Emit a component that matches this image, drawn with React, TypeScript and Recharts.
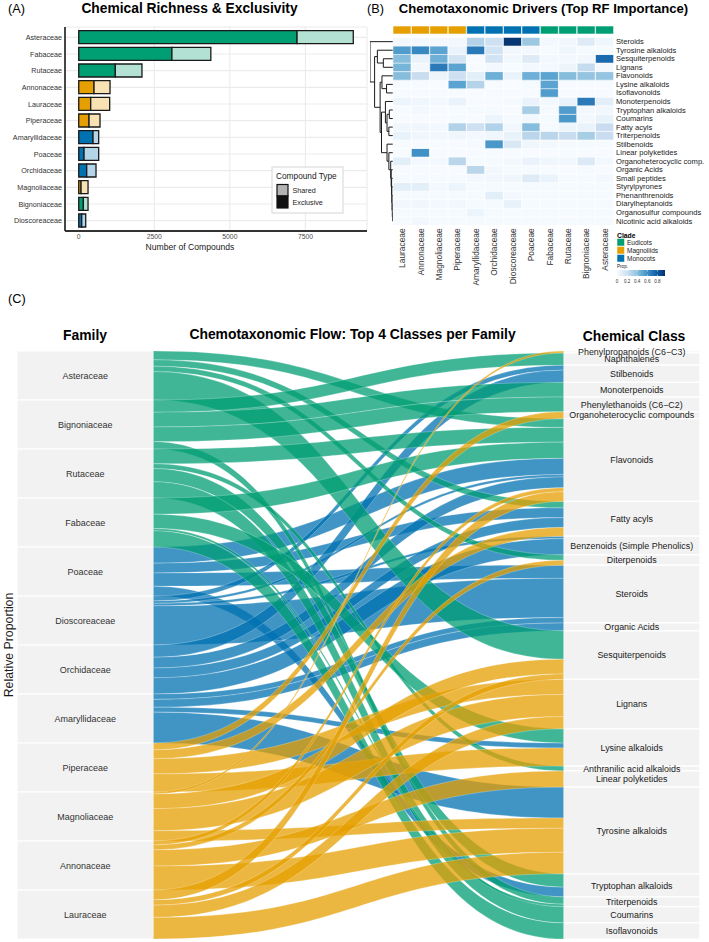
import React from 'react';
import {
  BarChart,
  Bar,
  XAxis,
  YAxis,
  CartesianGrid,
  Cell,
  ComposedChart,
  Area,
  ReferenceArea,
  ScatterChart,
  Scatter,
} from 'recharts';

const FONT = '"Liberation Sans", Arial, Helvetica, sans-serif';

type Clade = 'Eudicots' | 'Magnoliids' | 'Monocots';

const cladeColor: Record<Clade, string> = {
  Eudicots: '#009E73',
  Magnoliids: '#E69F00',
  Monocots: '#0072B2',
};
const cladeShared: Record<Clade, string> = {
  Eudicots: '#b3e2d5',
  Magnoliids: '#f8e2b3',
  Monocots: '#b3d5e8',
};
const cladeLegend: Clade[] = ['Eudicots', 'Magnoliids', 'Monocots'];

const familyClade: Record<string, Clade> = {
  Asteraceae: 'Eudicots',
  Fabaceae: 'Eudicots',
  Rutaceae: 'Eudicots',
  Bignoniaceae: 'Eudicots',
  Annonaceae: 'Magnoliids',
  Lauraceae: 'Magnoliids',
  Piperaceae: 'Magnoliids',
  Magnoliaceae: 'Magnoliids',
  Amaryllidaceae: 'Monocots',
  Poaceae: 'Monocots',
  Orchidaceae: 'Monocots',
  Dioscoreaceae: 'Monocots',
};

// ---------- (A) richness & exclusivity ----------
const richnessFamilies = [
  'Asteraceae', 'Fabaceae', 'Rutaceae', 'Annonaceae', 'Lauraceae', 'Piperaceae',
  'Amaryllidaceae', 'Poaceae', 'Orchidaceae', 'Magnoliaceae', 'Bignoniaceae', 'Dioscoreaceae',
];
const exclusiveCounts = [7222, 3083, 1211, 506, 396, 341, 473, 176, 264, 77, 154, 99];
const sharedCounts = [1860, 1287, 881, 529, 628, 363, 187, 484, 308, 231, 154, 132];
const richnessTicks = [0, 2500, 5000, 7500];

// ---------- (B) RF importance heatmap ----------
const heatFamilies = [
  'Lauraceae', 'Annonaceae', 'Magnoliaceae', 'Piperaceae',
  'Amaryllidaceae', 'Orchidaceae', 'Dioscoreaceae', 'Poaceae',
  'Fabaceae', 'Rutaceae', 'Bignoniaceae', 'Asteraceae',
];
const heatClasses = [
  'Steroids', 'Tyrosine alkaloids', 'Sesquiterpenoids', 'Lignans', 'Flavonoids',
  'Lysine alkaloids', 'Isoflavonoids', 'Monoterpenoids', 'Tryptophan alkaloids', 'Coumarins',
  'Fatty acyls', 'Triterpenoids', 'Stilbenoids', 'Linear polyketides', 'Organoheterocyclic comp.',
  'Organic Acids', 'Small peptides', 'Styrylpyrones', 'Phenanthrenoids', 'Diarylheptanoids',
  'Organosulfur compounds', 'Nicotinic acid alkaloids',
];
const heatMatrix = [
  [0.03, 0.02, 0.02, 0.03, 0.29, 0.2, 0.93, 0.36, 0.02, 0.03, 0.12, 0.04],
  [0.55, 0.63, 0.52, 0.06, 0.68, 0.18, 0.03, 0.02, 0.01, 0.04, 0.01, 0.01],
  [0.41, 0.06, 0.47, 0.18, 0.0, 0.18, 0.03, 0.12, 0.02, 0.02, 0.03, 0.74],
  [0.45, 0.02, 0.68, 0.52, 0.0, 0.02, 0.0, 0.02, 0.02, 0.05, 0.24, 0.02],
  [0.41, 0.22, 0.05, 0.2, 0.1, 0.47, 0.06, 0.47, 0.52, 0.41, 0.38, 0.38],
  [0.0, 0.0, 0.0, 0.52, 0.29, 0.0, 0.0, 0.01, 0.52, 0.0, 0.0, 0.0],
  [0.0, 0.0, 0.0, 0.0, 0.0, 0.0, 0.0, 0.0, 0.55, 0.0, 0.0, 0.0],
  [0.05, 0.04, 0.02, 0.06, 0.0, 0.0, 0.01, 0.06, 0.02, 0.06, 0.68, 0.1],
  [0.0, 0.02, 0.0, 0.0, 0.01, 0.01, 0.0, 0.33, 0.01, 0.55, 0.02, 0.03],
  [0.0, 0.0, 0.0, 0.01, 0.0, 0.05, 0.01, 0.02, 0.01, 0.57, 0.02, 0.07],
  [0.04, 0.04, 0.02, 0.3, 0.2, 0.3, 0.03, 0.41, 0.01, 0.05, 0.06, 0.22],
  [0.07, 0.04, 0.03, 0.04, 0.02, 0.04, 0.07, 0.27, 0.27, 0.22, 0.33, 0.22],
  [0.0, 0.0, 0.0, 0.0, 0.01, 0.57, 0.14, 0.04, 0.02, 0.01, 0.01, 0.0],
  [0.0, 0.6, 0.0, 0.0, 0.0, 0.0, 0.0, 0.0, 0.0, 0.0, 0.0, 0.0],
  [0.1, 0.02, 0.02, 0.27, 0.01, 0.01, 0.02, 0.06, 0.04, 0.03, 0.13, 0.02],
  [0.0, 0.0, 0.0, 0.0, 0.27, 0.02, 0.01, 0.01, 0.0, 0.0, 0.01, 0.0],
  [0.01, 0.01, 0.01, 0.01, 0.02, 0.03, 0.04, 0.12, 0.06, 0.01, 0.01, 0.02],
  [0.1, 0.1, 0.02, 0.05, 0.01, 0.01, 0.01, 0.01, 0.01, 0.01, 0.01, 0.01],
  [0.01, 0.01, 0.01, 0.01, 0.01, 0.1, 0.02, 0.01, 0.01, 0.01, 0.01, 0.01],
  [0.03, 0.04, 0.02, 0.03, 0.01, 0.01, 0.07, 0.01, 0.01, 0.01, 0.01, 0.01],
  [0.01, 0.01, 0.01, 0.01, 0.05, 0.01, 0.01, 0.01, 0.01, 0.01, 0.01, 0.01],
  [0.01, 0.03, 0.01, 0.01, 0.01, 0.01, 0.01, 0.01, 0.01, 0.01, 0.01, 0.01],
];
const heatLegendTicks = [0, 0.2, 0.4, 0.6, 0.8];
const HEAT_MAX = 0.95;

// Row dendrogram in hclust convention: negative = leaf (1-based), positive = earlier merge
const dendroMerges: [number, number][] = [
  [-21, -22], [-20, 1], [-19, 2], [-18, 3], [-17, 4], [-16, 5], [-15, 6], [-14, 7], [-13, 8],
  [-11, -12], [-9, -10], [11, 10], [-8, 12], [13, 9], [-6, -7], [-5, 15], [16, 14],
  [-3, -4], [-2, 18], [19, 17], [-1, 20],
];
const dendroHeights = [
  0.02, 0.03, 0.04, 0.05, 0.06, 0.08, 0.1, 0.18, 0.26,
  0.18, 0.16, 0.26, 0.33, 0.5, 0.28, 0.48, 0.56,
  0.42, 0.68, 0.8, 1.0,
];

// ---------- (C) alluvial flow ----------
const familyOrder = [
  'Asteraceae', 'Bignoniaceae', 'Rutaceae', 'Fabaceae',
  'Poaceae', 'Dioscoreaceae', 'Orchidaceae', 'Amaryllidaceae',
  'Piperaceae', 'Magnoliaceae', 'Annonaceae', 'Lauraceae',
];
const classOrder = [
  'Phenylpropanoids (C6\u2212C3)', 'Naphthalenes', 'Stilbenoids', 'Monoterpenoids',
  'Phenylethanoids (C6\u2212C2)', 'Organoheterocyclic compounds', 'Flavonoids', 'Fatty acyls',
  'Benzenoids (Simple Phenolics)', 'Diterpenoids', 'Steroids', 'Organic Acids',
  'Sesquiterpenoids', 'Lignans', 'Lysine alkaloids', 'Anthranilic acid alkaloids',
  'Linear polyketides', 'Tyrosine alkaloids', 'Tryptophan alkaloids', 'Triterpenoids',
  'Coumarins', 'Isoflavonoids',
];
const eudicotLinks: [string, string, number][] = [
  ['Asteraceae', 'Flavonoids', 0.18], ['Asteraceae', 'Fatty acyls', 0.13],
  ['Asteraceae', 'Diterpenoids', 0.11], ['Asteraceae', 'Sesquiterpenoids', 0.58],
  ['Bignoniaceae', 'Naphthalenes', 0.25], ['Bignoniaceae', 'Monoterpenoids', 0.3],
  ['Bignoniaceae', 'Phenylethanoids (C6\u2212C2)', 0.3], ['Bignoniaceae', 'Triterpenoids', 0.15],
  ['Rutaceae', 'Flavonoids', 0.3], ['Rutaceae', 'Anthranilic acid alkaloids', 0.1],
  ['Rutaceae', 'Tryptophan alkaloids', 0.27], ['Rutaceae', 'Coumarins', 0.33],
  ['Fabaceae', 'Flavonoids', 0.33], ['Fabaceae', 'Lysine alkaloids', 0.29],
  ['Fabaceae', 'Triterpenoids', 0.05], ['Fabaceae', 'Isoflavonoids', 0.33],
];
const monocotLinks: [string, string, number][] = [
  ['Poaceae', 'Flavonoids', 0.33], ['Poaceae', 'Fatty acyls', 0.2],
  ['Poaceae', 'Steroids', 0.27], ['Poaceae', 'Tryptophan alkaloids', 0.2],
  ['Dioscoreaceae', 'Stilbenoids', 0.1], ['Dioscoreaceae', 'Flavonoids', 0.05],
  ['Dioscoreaceae', 'Benzenoids (Simple Phenolics)', 0.05], ['Dioscoreaceae', 'Steroids', 0.8],
  ['Orchidaceae', 'Stilbenoids', 0.25], ['Orchidaceae', 'Flavonoids', 0.22],
  ['Orchidaceae', 'Fatty acyls', 0.2], ['Orchidaceae', 'Benzenoids (Simple Phenolics)', 0.33],
  ['Amaryllidaceae', 'Steroids', 0.11], ['Amaryllidaceae', 'Organic Acids', 0.16],
  ['Amaryllidaceae', 'Lysine alkaloids', 0.1], ['Amaryllidaceae', 'Tyrosine alkaloids', 0.63],
];
const magnoliidLinks: [string, string, number][] = [
  ['Piperaceae', 'Organoheterocyclic compounds', 0.14], ['Piperaceae', 'Fatty acyls', 0.18],
  ['Piperaceae', 'Lignans', 0.31], ['Piperaceae', 'Lysine alkaloids', 0.37],
  ['Magnoliaceae', 'Phenylpropanoids (C6\u2212C3)', 0.04], ['Magnoliaceae', 'Sesquiterpenoids', 0.3],
  ['Magnoliaceae', 'Lignans', 0.45], ['Magnoliaceae', 'Tyrosine alkaloids', 0.21],
  ['Annonaceae', 'Flavonoids', 0.08], ['Annonaceae', 'Diterpenoids', 0.1],
  ['Annonaceae', 'Linear polyketides', 0.33], ['Annonaceae', 'Tyrosine alkaloids', 0.49],
  ['Lauraceae', 'Flavonoids', 0.2], ['Lauraceae', 'Sesquiterpenoids', 0.11],
  ['Lauraceae', 'Lignans', 0.25], ['Lauraceae', 'Tyrosine alkaloids', 0.44],
];
// Flows painted in this clade order (later ones on top)
const drawOrder: Clade[] = ['Monocots', 'Eudicots', 'Magnoliids'];

// ---------- helpers ----------
const BLUES = ['#f7fbff', '#deebf7', '#c6dbef', '#9ecae1', '#6baed6', '#4292c6', '#2171b5', '#08519c', '#08306b'];

function hexToRgb(h: string) {
  const n = parseInt(h.slice(1), 16);
  return [(n >> 16) & 255, (n >> 8) & 255, n & 255];
}
function blues(t: number) {
  const c = Math.min(1, Math.max(0, t)) * (BLUES.length - 1);
  const i = Math.min(BLUES.length - 2, Math.floor(c));
  const f = c - i;
  const a = hexToRgb(BLUES[i]);
  const b = hexToRgb(BLUES[i + 1]);
  const m = a.map((v, k) => Math.round(v + (b[k] - v) * f));
  return `rgb(${m[0]},${m[1]},${m[2]})`;
}

// ---------- panel A ----------
function RichnessPanel() {
  const data = richnessFamilies.map((family, i) => ({
    family,
    clade: familyClade[family],
    exclusive: exclusiveCounts[i],
    shared: sharedCounts[i],
  }));
  const maxTotal = Math.max(...data.map((d) => d.exclusive + d.shared));
  const pad = maxTotal * 0.05;
  const axisLine = { stroke: '#333333', strokeWidth: 1.8 };
  return (
    <BarChart
      width={372}
      height={262}
      data={data}
      layout="vertical"
      margin={{ top: 27, right: 5, bottom: 0, left: 0 }}
      barCategoryGap="10%"
    >
      <CartesianGrid stroke="#ebebeb" strokeWidth={1.1} />
      <XAxis
        type="number"
        domain={[-pad, maxTotal + pad]}
        ticks={richnessTicks}
        allowDataOverflow
        height={31}
        tickSize={0}
        tickMargin={3}
        axisLine={axisLine}
        tick={{ fontSize: 6.8, fill: '#4d4d4d' }}
      />
      <YAxis
        type="category"
        dataKey="family"
        width={65}
        interval={0}
        tickSize={0}
        tickMargin={3}
        padding={{ top: 2, bottom: 2 }}
        axisLine={axisLine}
        tick={{ fontSize: 7.2, fill: '#333333' }}
      />
      <Bar dataKey="exclusive" stackId="n" isAnimationActive={false} stroke="#1a1a1a" strokeWidth={1.3}>
        {data.map((d) => (
          <Cell key={d.family} fill={cladeColor[d.clade]} />
        ))}
      </Bar>
      <Bar dataKey="shared" stackId="n" isAnimationActive={false} stroke="#1a1a1a" strokeWidth={1.3}>
        {data.map((d) => (
          <Cell key={d.family} fill={cladeShared[d.clade]} />
        ))}
      </Bar>
    </BarChart>
  );
}

// ---------- panel B ----------
const HeatFamilyTick = (props: any) => {
  const { x, y, payload } = props;
  return (
    <text
      x={x}
      y={y}
      transform={`rotate(-90 ${x} ${y})`}
      textAnchor="end"
      dominantBaseline="central"
      fontSize={8.4}
      fill="#333333"
      fontFamily={FONT}
    >
      {payload.value}
    </text>
  );
};

const HeatClassTick = (props: any) => {
  const { x, y, payload } = props;
  const label = heatClasses[Math.round(heatClasses.length - 0.5 - payload.value)];
  return (
    <text
      x={x}
      y={y}
      textAnchor="start"
      dominantBaseline="central"
      fontSize={7.6}
      fill="#1a1a1a"
      fontFamily={FONT}
    >
      {label}
    </text>
  );
};

function HeatmapPanel() {
  const nRows = heatClasses.length;
  const GAP = 0.4;
  const STRIP = 0.94;
  const top = nRows + GAP + STRIP;
  const data = heatFamilies.map((family) => {
    const row: Record<string, any> = { family, gap: GAP, strip: STRIP };
    heatClasses.forEach((_, i) => {
      row[`row${i}`] = 1;
    });
    return row;
  });
  const bottomUp = heatClasses.map((_, i) => i).reverse();
  const labelTicks = heatClasses.map((_, i) => nRows - i - 0.5);
  return (
    <BarChart
      width={349}
      height={290}
      data={data}
      margin={{ top: 26, right: 0, bottom: 0, left: 33 }}
      barCategoryGap={0}
      barGap={0}
    >
      <XAxis
        dataKey="family"
        height={64.7}
        interval={0}
        tickSize={0}
        tickMargin={3}
        axisLine={false}
        tickLine={false}
        tick={<HeatFamilyTick />}
      />
      <YAxis yAxisId="cells" type="number" domain={[0, top]} hide allowDataOverflow />
      <YAxis
        yAxisId="labels"
        orientation="right"
        type="number"
        domain={[0, top]}
        allowDataOverflow
        ticks={labelTicks}
        interval={0}
        width={95}
        axisLine={false}
        tickLine={false}
        tickSize={0}
        tickMargin={2}
        tick={<HeatClassTick />}
      />
      {bottomUp.map((i) => (
        <Bar
          key={heatClasses[i]}
          dataKey={`row${i}`}
          yAxisId="cells"
          stackId="heat"
          isAnimationActive={false}
          stroke="#ffffff"
          strokeWidth={0.5}
        >
          {heatFamilies.map((f, j) => (
            <Cell key={f} fill={blues(heatMatrix[i][j] / HEAT_MAX)} />
          ))}
        </Bar>
      ))}
      <Bar dataKey="gap" yAxisId="cells" stackId="heat" isAnimationActive={false} fill="none" />
      <Bar dataKey="strip" yAxisId="cells" stackId="heat" isAnimationActive={false} stroke="#ffffff" strokeWidth={0.6}>
        {heatFamilies.map((f) => (
          <Cell key={f} fill={cladeColor[familyClade[f]]} />
        ))}
      </Bar>
    </BarChart>
  );
}

function DendrogramPanel() {
  const nodeY: number[] = [];
  const nodeH: number[] = [];
  const pos = (ref: number) =>
    ref < 0 ? { y: -ref - 1 + 0.5, h: 0 } : { y: nodeY[ref - 1], h: nodeH[ref - 1] };
  const segments = dendroMerges.map(([a, b], k) => {
    const A = pos(a);
    const B = pos(b);
    const H = dendroHeights[k];
    nodeY.push((A.y + B.y) / 2);
    nodeH.push(H);
    return [
      { h: A.h, y: A.y },
      { h: H, y: A.y },
      { h: H, y: B.y },
      { h: B.h, y: B.y },
    ];
  });
  return (
    <ScatterChart width={35} height={290} margin={{ top: 37.4, right: 0, bottom: 64.7, left: 12 }}>
      <XAxis type="number" dataKey="h" domain={[0, 1]} reversed hide allowDataOverflow />
      <YAxis type="number" dataKey="y" domain={[0, heatClasses.length]} reversed hide allowDataOverflow />
      {segments.map((seg, k) => (
        <Scatter
          key={k}
          data={seg}
          isAnimationActive={false}
          line={{ stroke: '#1a1a1a', strokeWidth: 1 }}
          lineType="joint"
          shape={() => <g />}
        />
      ))}
    </ScatterChart>
  );
}

// ---------- panel C ----------
const STRATUM = 0.333;

function AlluvialPanel() {
  const fIndex = new Map(familyOrder.map((f, i) => [f, i]));
  const cIndex = new Map(classOrder.map((c, i) => [c, i]));
  const links = [...eudicotLinks, ...monocotLinks, ...magnoliidLinks].map(([family, cls, value]) => ({
    family,
    cls,
    value,
    fi: fIndex.get(family) as number,
    ci: cIndex.get(cls) as number,
    y0: 0,
    y1: 0,
  }));

  const famTotals = familyOrder.map((_, fi) => links.filter((l) => l.fi === fi).reduce((s, l) => s + l.value, 0));
  const famStart: number[] = [];
  famTotals.reduce((acc, t) => {
    famStart.push(acc);
    return acc + t;
  }, 0);
  const clsTotals = classOrder.map((_, ci) => links.filter((l) => l.ci === ci).reduce((s, l) => s + l.value, 0));
  const clsStart: number[] = [];
  clsTotals.reduce((acc, t) => {
    clsStart.push(acc);
    return acc + t;
  }, 0);

  familyOrder.forEach((_, fi) => {
    let y = famStart[fi];
    links
      .filter((l) => l.fi === fi)
      .sort((a, b) => a.ci - b.ci)
      .forEach((l) => {
        l.y0 = y;
        y += l.value;
      });
  });
  classOrder.forEach((_, ci) => {
    let y = clsStart[ci];
    links
      .filter((l) => l.ci === ci)
      .sort((a, b) => a.fi - b.fi)
      .forEach((l) => {
        l.y1 = y;
        y += l.value;
      });
  });

  const rows: Record<string, any>[] = [{ x: 0 }, { x: 1 }];
  links.forEach((l, k) => {
    rows[0][`f${k}`] = [l.y0, l.y0 + l.value];
    rows[1][`f${k}`] = [l.y1, l.y1 + l.value];
  });
  const painted = links
    .map((l, k) => ({ ...l, k, clade: familyClade[l.family] }))
    .sort((a, b) => drawOrder.indexOf(a.clade) - drawOrder.indexOf(b.clade) || a.fi - b.fi);
  const total = famTotals.reduce((s, t) => s + t, 0);

  return (
    <ComposedChart width={709} height={602} data={rows} margin={{ top: 11, right: 9, bottom: 3, left: 0 }}>
      <XAxis type="number" dataKey="x" domain={[-STRATUM, 1 + STRATUM]} hide allowDataOverflow />
      <YAxis
        type="number"
        domain={[0, total]}
        reversed
        allowDataOverflow
        width={17}
        tick={false}
        tickLine={false}
        axisLine={false}
        label={{
          value: 'Relative Proportion',
          angle: -90,
          position: 'center',
          fontSize: 12.3,
          fill: '#1a1a1a',
          fontFamily: FONT,
        }}
      />
      {familyOrder.map((f, fi) => (
        <ReferenceArea
          key={f}
          x1={-STRATUM}
          x2={0}
          y1={famStart[fi]}
          y2={famStart[fi] + famTotals[fi]}
          fill="#f2f2f2"
          fillOpacity={1}
          stroke="#ffffff"
          strokeWidth={1.2}
          ifOverflow="visible"
          label={{ value: f, position: 'center', fontSize: 9, fill: '#333333', fontFamily: FONT }}
        />
      ))}
      {classOrder.map((c, ci) => (
        <ReferenceArea
          key={c}
          x1={1}
          x2={1 + STRATUM}
          y1={clsStart[ci]}
          y2={clsStart[ci] + clsTotals[ci]}
          fill="#f2f2f2"
          fillOpacity={1}
          stroke="#ffffff"
          strokeWidth={1.2}
          ifOverflow="visible"
          label={{ value: c, position: 'center', fontSize: 8.9, fill: '#1a1a1a', fontFamily: FONT }}
        />
      ))}
      {painted.map((l) => (
        <Area
          key={`f${l.k}`}
          dataKey={`f${l.k}`}
          type="bumpX"
          fill={cladeColor[l.clade]}
          fillOpacity={0.75}
          stroke="#ffffff"
          strokeOpacity={0.6}
          strokeWidth={0.4}
          dot={false}
          activeDot={false}
          isAnimationActive={false}
        />
      ))}
    </ComposedChart>
  );
}

// ---------- titles & legends ----------
function Txt(props: {
  x: number;
  y: number;
  size: number;
  bold?: boolean;
  anchor?: 'start' | 'middle' | 'end';
  fill?: string;
  children: React.ReactNode;
}) {
  const { x, y, size, bold, anchor = 'middle', fill = '#000000', children } = props;
  return (
    <text
      x={x}
      y={y}
      fontSize={size}
      fontWeight={bold ? 'bold' : 'normal'}
      textAnchor={anchor}
      dominantBaseline="central"
      fontFamily={FONT}
      fill={fill}
    >
      {children}
    </text>
  );
}

function Annotations() {
  const gx = 617;
  const gw = 48;
  return (
    <svg
      width={709}
      height={942}
      style={{ position: 'absolute', left: 0, top: 0, pointerEvents: 'none' }}
    >
      <defs>
        <linearGradient id="propGradient" x1="0" x2="1" y1="0" y2="0">
          {BLUES.map((c, i) => (
            <stop key={c} offset={i / (BLUES.length - 1)} stopColor={c} />
          ))}
        </linearGradient>
      </defs>

      <Txt x={8} y={9} size={12.7} anchor="start">(A)</Txt>
      <Txt x={189.5} y={8.5} size={13.8} bold>Chemical Richness &amp; Exclusivity</Txt>
      <Txt x={190} y={247} size={8.6} fill="#1a1a1a">Number of Compounds</Txt>

      <rect x={272} y={167} width={71} height={46} fill="#ffffff" stroke="#dddddd" strokeWidth={1.2} />
      <Txt x={276} y={176} size={8.3} anchor="start" fill="#1a1a1a">Compound Type</Txt>
      <rect x={277} y={184.5} width={11} height={11.5} fill="#b3b3b3" stroke="#111111" strokeWidth={1.2} />
      <rect x={277} y={196} width={11} height={12} fill="#111111" stroke="#111111" strokeWidth={1.2} />
      <Txt x={292.5} y={190.3} size={7.2} anchor="start" fill="#1a1a1a">Shared</Txt>
      <Txt x={292.5} y={202.7} size={7.2} anchor="start" fill="#1a1a1a">Exclusive</Txt>

      <Txt x={367} y={9} size={12.7} anchor="start">(B)</Txt>
      <Txt x={543.5} y={8.5} size={13.1} bold>Chemotaxonomic Drivers (Top RF Importance)</Txt>

      <Txt x={gx} y={235} size={6.8} bold anchor="start">Clade</Txt>
      {cladeLegend.map((c, i) => (
        <g key={c}>
          <rect x={gx} y={238.5 + i * 8} width={7.5} height={7.5} fill={cladeColor[c]} stroke="#ffffff" strokeWidth={0.5} />
          <Txt x={gx + 10} y={242.3 + i * 8} size={6.5} anchor="start" fill="#1a1a1a">{c}</Txt>
        </g>
      ))}
      <Txt x={gx} y={266} size={4.6} anchor="start" fill="#1a1a1a">Prop.</Txt>
      <rect x={gx} y={270} width={gw} height={6} fill="url(#propGradient)" />
      {heatLegendTicks.map((t) => {
        const tx = gx + (t / HEAT_MAX) * gw;
        return (
          <g key={t}>
            <line x1={tx} x2={tx} y1={270} y2={271.4} stroke="#ffffff" strokeWidth={0.6} />
            <line x1={tx} x2={tx} y1={274.6} y2={276} stroke="#ffffff" strokeWidth={0.6} />
            <Txt x={tx} y={281} size={4.6} fill="#333333">{String(t)}</Txt>
          </g>
        );
      })}

      <Txt x={8} y={299} size={12.7} anchor="start">(C)</Txt>
      <Txt x={85} y={335} size={13.9} bold>Family</Txt>
      <Txt x={352.5} y={334} size={13.9} bold>Chemotaxonomic Flow: Top 4 Classes per Family</Txt>
      <Txt x={634} y={336} size={13.9} bold>Chemical Class</Txt>
    </svg>
  );
}

export default function App() {
  return (
    <div
      style={{
        position: 'absolute',
        left: 0,
        top: 0,
        width: 709,
        height: 942,
        background: '#ffffff',
        overflow: 'hidden',
        fontFamily: FONT,
      }}
    >
      <div style={{ position: 'absolute', left: 0, top: 0 }}>
        <RichnessPanel />
      </div>
      <div style={{ position: 'absolute', left: 358, top: 0 }}>
        <DendrogramPanel />
      </div>
      <div style={{ position: 'absolute', left: 360, top: 0 }}>
        <HeatmapPanel />
      </div>
      <div style={{ position: 'absolute', left: 0, top: 340 }}>
        <AlluvialPanel />
      </div>
      <Annotations />
    </div>
  );
}
